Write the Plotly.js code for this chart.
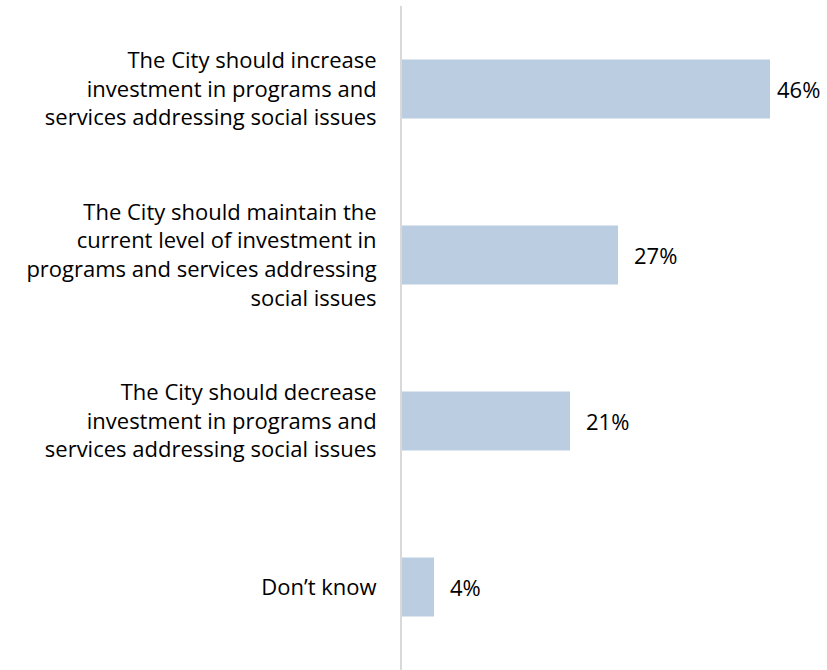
<!DOCTYPE html>
<html>
<head>
<meta charset="utf-8">
<script src="https://cdn.plot.ly/plotly-3.0.1.min.js"></script>
<style>html,body{margin:0;padding:0;background:#fff;}#chart{width:827px;height:670px;}</style>
</head>
<body>
<div id="chart"></div>
<script>
const categories = [
  "The City should increase<br>investment in programs and<br>services addressing social issues",
  "The City should maintain the<br>current level of investment in<br>programs and services addressing<br>social issues",
  "The City should decrease<br>investment in programs and<br>services addressing social issues",
  "Don’t know"
];
const values = [46, 27, 21, 4];
const valueLabels = values.map(v => v + "%");

const FONT = "'Open Sans', sans-serif";
const maxVal = Math.max(...values);

const trace = {
  type: "bar",
  orientation: "h",
  y: categories,
  x: values,
  marker: {color: "#BBCDE0"},
  hoverinfo: "skip"
};

const annotations = values.map((v, i) => ({
  x: v, y: categories[i], xref: "x", yref: "y",
  text: valueLabels[i], showarrow: false,
  xanchor: "left", yanchor: "middle",
  xshift: v === maxVal ? 5 : 14,
  font: {family: FONT, size: 22, color: "#000"}
}));

const layout = {
  width: 827, height: 670,
  margin: {l: 402, r: 27, t: 6, b: 0},
  paper_bgcolor: "#fff", plot_bgcolor: "#fff",
  showlegend: false,
  bargap: 0.645,
  font: {family: FONT, size: 22, color: "#000"},
  xaxis: {range: [0, 49.75], visible: false, fixedrange: true},
  yaxis: {
    autorange: "reversed",
    showline: true, linecolor: "#D9D9D9", linewidth: 2,
    showgrid: false, zeroline: false,
    ticks: "", ticklabelstandoff: 19,
    tickfont: {family: FONT, size: 22, color: "#000"}
  },
  annotations: annotations
};

Plotly.newPlot("chart", [trace], layout, {staticPlot: true, displayModeBar: false});
</script>
</body>
</html>
